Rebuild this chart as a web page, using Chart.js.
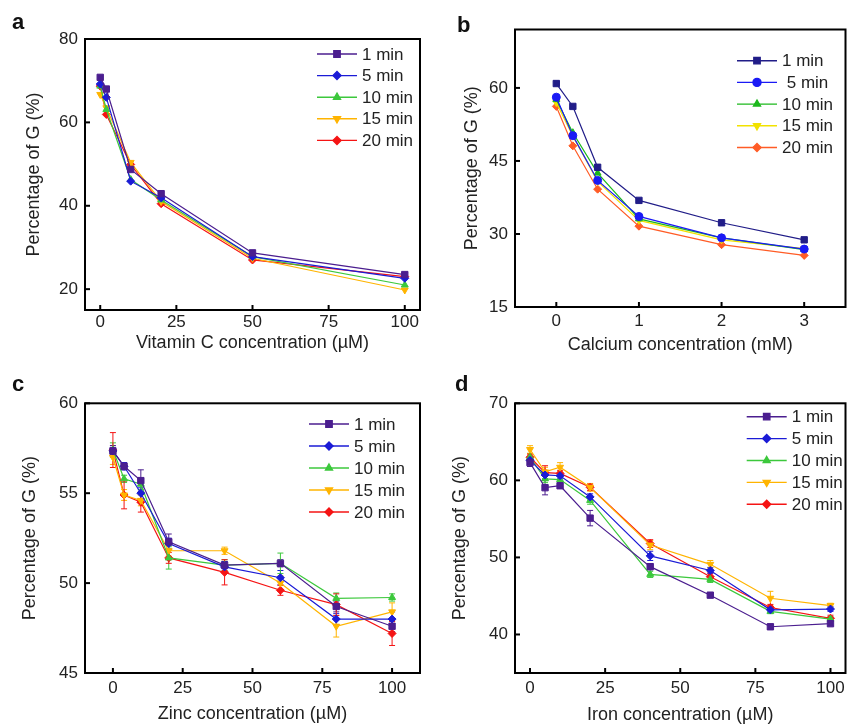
<!DOCTYPE html>
<html>
<head>
<meta charset="utf-8">
<script src="https://cdn.jsdelivr.net/npm/chart.js"></script>
<style>
body { margin: 0; background: #fff; }
#wrap { position: relative; width: 851px; height: 727px; overflow: hidden; }
canvas { position: absolute; }
.lbl { position: absolute; font: bold 22px "Liberation Sans", Arial, sans-serif; color: #111; line-height: 22px; }
</style>
</head>
<body>
<div id="wrap">
  <canvas id="chartA" width="430" height="363" style="left:0;top:0"></canvas>
  <canvas id="chartB" width="421" height="363" style="left:430px;top:0"></canvas>
  <canvas id="chartC" width="430" height="364" style="left:0;top:363px"></canvas>
  <canvas id="chartD" width="421" height="364" style="left:430px;top:363px"></canvas>
  <div class="lbl" style="left:12px;top:11px">a</div>
  <div class="lbl" style="left:457px;top:14px">b</div>
  <div class="lbl" style="left:12px;top:373px">c</div>
  <div class="lbl" style="left:455px;top:373px">d</div>
</div>
<script>
// --- data ---
const timeLabels = ['1 min', '5 min', '10 min', '15 min', '20 min'];
const timeLabelsB = ['1 min', ' 5 min', '10 min', '15 min', '20 min'];

// a: vitamin C
const aX = [0, 2, 10, 20, 50, 100];
const a1 = [70.8, 68.0, 48.7, 42.9, 28.7, 23.5];
const a5 = [69.2, 66.0, 45.9, 41.9, 27.8, 22.6];
const a10 = [68.7, 63.1, 46.3, 41.4, 27.8, 21.0];
const a15 = [66.7, 63.5, 50.4, 41.0, 27.4, 19.8];
const a20 = [68.7, 61.9, 49.9, 40.5, 27.0, 23.0];
const aXTicks = [0, 25, 50, 75, 100];
const aYTicks = [20, 40, 60, 80];

// b: calcium
const bX = [0, 0.2, 0.5, 1, 2, 3];
const b1 = [60.9, 56.2, 43.7, 36.9, 32.3, 28.8];
const b5 = [58.1, 50.2, 41.0, 33.6, 29.2, 26.9];
const b10 = [57.6, 50.8, 42.5, 33.1, 29.2, 26.8];
const b15 = [57.0, 50.1, 40.8, 32.8, 28.8, 27.0];
const b20 = [56.2, 48.1, 39.2, 31.6, 27.8, 25.6];
const bXTicks = [0, 1, 2, 3];
const bYTicks = [15, 30, 45, 60];

// c: zinc
const cX = [0, 4, 10, 20, 40, 60, 80, 100];
const c1 = [57.35, 56.5, 55.7, 52.3, 51.0, 51.1, 48.7, 47.6];
const c5 = [57.35, 56.5, 55.0, 52.2, 50.9, 50.3, 48.0, 48.0];
const c10 = [57.4, 55.8, 55.5, 51.4, 51.0, 51.1, 49.15, 49.2];
const c15 = [57.0, 54.9, 54.6, 51.8, 51.8, 50.0, 47.6, 48.4];
const c20 = [57.4, 54.9, 54.5, 51.4, 50.6, 49.6, 48.8, 47.2];
const cErr1 = [0.3, 0.2, 0.6, 0.43, 0.2, 0.2, 0.3, 0.3];
const cErr5 = [0.2, 0.2, 0.3, 0.3, 0.3, 0.4, 0.3, 0.4];
const cErr10 = [0.4, 0.2, 0.3, 0.62, 0.3, 0.57, 0.3, 0.2];
const cErr15 = [0.4, 0.3, 0.3, 0.3, 0.2, 0.4, 0.6, 0.5];
const cErr20 = [0.97, 0.77, 0.55, 0.3, 0.7, 0.28, 0.6, 0.67];
const cXTicks = [0, 25, 50, 75, 100];
const cYTicks = [45, 50, 55, 60];

// d: iron
const dX = [0, 5, 10, 20, 40, 60, 80, 100];
const d1 = [62.3, 59.05, 59.3, 55.1, 48.8, 45.1, 41.0, 41.4];
const d5 = [62.6, 60.7, 60.6, 57.85, 50.2, 48.3, 43.2, 43.3];
const d10 = [63.0, 60.2, 60.1, 57.4, 47.8, 47.15, 43.0, 42.0];
const d15 = [64.0, 61.1, 61.7, 59.1, 51.6, 49.1, 44.7, 43.75];
const d20 = [63.0, 61.0, 60.9, 59.1, 51.8, 47.5, 43.5, 42.1];
const dErr1 = [0.5, 0.93, 0.3, 1.0, 0.4, 0.3, 0.3, 0.3];
const dErr5 = [0.4, 0.5, 0.4, 0.4, 0.6, 0.4, 0.3, 0.3];
const dErr10 = [0.5, 0.5, 0.4, 0.5, 0.4, 0.4, 0.3, 0.3];
const dErr15 = [0.5, 0.6, 0.6, 0.5, 0.6, 0.5, 0.9, 0.3];
const dErr20 = [0.4, 0.9, 0.4, 0.4, 0.5, 0.5, 0.4, 0.4];
const dXTicks = [0, 25, 50, 75, 100];
const dYTicks = [40, 50, 60, 70];

const colorsMain = ['#4B1E8F', '#1B1BD6', '#3CC83C', '#FFB400', '#F51414'];
const colorsB = ['#211D88', '#1A1AF5', '#1DB81D', '#F2E200', '#FF5C26'];

const FONT = '"Liberation Sans", Arial, sans-serif';
Chart.defaults.animation = false;
Chart.defaults.font.family = FONT;

// frame + inward tick marks
const framePlugin = {
    id: 'frame',
    afterDraw(chart) {
        const ctx = chart.ctx, ca = chart.chartArea;
        const xs = chart.scales.x, ys = chart.scales.y;
        ctx.save();
        ctx.strokeStyle = '#000';
        ctx.lineWidth = 2;
        xs.ticks.forEach(t => {
            let px = xs.getPixelForValue(t.value);
            ctx.beginPath(); ctx.moveTo(px, ca.bottom); ctx.lineTo(px, ca.bottom - 5); ctx.stroke();
        });
        ys.ticks.forEach(t => {
            let py = ys.getPixelForValue(t.value);
            ctx.beginPath(); ctx.moveTo(ca.left, py); ctx.lineTo(ca.left + 5, py); ctx.stroke();
        });
        ctx.strokeRect(ca.left, ca.top, ca.right - ca.left, ca.bottom - ca.top);
        ctx.restore();
    }
};

// error bars from dataset.errors
const errorPlugin = {
    id: 'errbars',
    beforeDatasetsDraw(chart) {
        const ctx = chart.ctx;
        const xs = chart.scales.x, ys = chart.scales.y;
        ctx.save();
        ctx.lineWidth = 1;
        chart.data.datasets.forEach(ds => {
            if (!ds.errors) return;
            ctx.strokeStyle = ds.borderColor;
            ds.data.forEach((pt, k) => {
                let e = ds.errors[k];
                let px = xs.getPixelForValue(pt.x);
                let top = ys.getPixelForValue(pt.y + e);
                let bot = ys.getPixelForValue(pt.y - e);
                ctx.beginPath();
                ctx.moveTo(px, top); ctx.lineTo(px, bot);
                ctx.moveTo(px - 3, top); ctx.lineTo(px + 3, top);
                ctx.moveTo(px - 3, bot); ctx.lineTo(px + 3, bot);
                ctx.stroke();
            });
        });
        ctx.restore();
    }
};

function makeLegend(pos) {
    return {
        id: 'boxLegend',
        afterDraw(chart) {
            const ctx = chart.ctx;
            ctx.save();
            chart.data.datasets.forEach((ds, i) => {
                let y = pos.y + i * pos.gap;
                ctx.strokeStyle = ds.borderColor;
                ctx.lineWidth = 1.4;
                ctx.beginPath(); ctx.moveTo(pos.x, y); ctx.lineTo(pos.x + 40, y); ctx.stroke();
                ctx.fillStyle = ds.backgroundColor;
                Chart.helpers.drawPoint(ctx, {
                    pointStyle: ds.pointStyle, rotation: ds.pointRotation,
                    radius: ds.pointRadius, borderWidth: 1
                }, pos.x + 20, y);
                ctx.fillStyle = '#222';
                ctx.font = '17px ' + FONT;
                ctx.textBaseline = 'middle';
                ctx.textAlign = 'left';
                ctx.fillText(ds.label, pos.x + 45, y + 1);
            });
            ctx.restore();
        }
    };
}

function makePanel(id, p) {
    let styles = p.styles || ['rect', 'rectRot', 'triangle', 'triangle', 'rectRot'];
    let datasets = p.series.map((s, i) => ({
        label: p.names[i],
        data: p.x.map((xv, k) => ({ x: xv, y: s[k] })),
        errors: p.errors ? p.errors[i] : null,
        borderColor: p.colors[i],
        backgroundColor: p.colors[i],
        borderWidth: 1.2,
        pointStyle: styles[i],
        pointRotation: i === 3 ? 180 : 0,
        pointRadius: styles[i] === 'rect' ? 4.5 : 4,
        pointBorderWidth: 1,
        tension: 0
    }));

    new Chart(document.getElementById(id), {
        type: 'line',
        data: { datasets: datasets },
        options: {
            responsive: false,
            layout: { padding: { top: p.padTop, right: p.padRight, left: 0, bottom: 0 } },
            plugins: { legend: { display: false }, tooltip: { enabled: false } },
            scales: {
                x: {
                    type: 'linear', min: p.xMin, max: p.xMax,
                    afterBuildTicks: sc => { sc.ticks = p.xTicks.map(v => ({ value: v })); },
                    afterFit: sc => { sc.height = p.xAxisH; },
                    grid: { display: false, drawTicks: false },
                    border: { display: false },
                    ticks: { font: { size: 17 }, color: '#222', padding: p.xTickPad, maxRotation: 0, autoSkip: false },
                    title: { display: true, text: p.xTitle, font: { size: 18 }, color: '#222', padding: { top: 0, bottom: p.xTitlePad } }
                },
                y: {
                    type: 'linear', min: p.yMin, max: p.yMax,
                    afterBuildTicks: sc => { sc.ticks = p.yTicks.map(v => ({ value: v })); },
                    afterFit: sc => { sc.width = 85; },
                    grid: { display: false, drawTicks: false },
                    border: { display: false },
                    ticks: { font: { size: 17 }, color: '#222', padding: 7, autoSkip: false },
                    title: { display: true, text: 'Percentage of G (%)', font: { size: 18 }, color: '#222', padding: { top: p.yTitlePad, bottom: 0 } }
                }
            }
        },
        plugins: [errorPlugin, framePlugin, makeLegend(p.legend)]
    });
}

makePanel('chartA', {
    x: aX, series: [a1, a5, a10, a15, a20], names: timeLabels, colors: colorsMain,
    xMin: -5, xMax: 105, yMin: 15, yMax: 80, xTicks: aXTicks, yTicks: aYTicks,
    xTitle: 'Vitamin C concentration (\u00b5M)',
    padTop: 39, padRight: 10, xAxisH: 53, xTickPad: 2, xTitlePad: 9, yTitlePad: 23,
    legend: { x: 317, y: 54, gap: 21.6 }
});

makePanel('chartB', {
    x: bX, series: [b1, b5, b10, b15, b20], names: timeLabelsB, colors: colorsB,
    styles: ['rect', 'circle', 'triangle', 'triangle', 'rectRot'],
    xMin: -0.5, xMax: 3.5, yMin: 15, yMax: 72, xTicks: bXTicks, yTicks: bYTicks,
    xTitle: 'Calcium concentration (mM)',
    padTop: 29.5, padRight: 3, xAxisH: 56, xTickPad: 4.5, xTitlePad: 7, yTitlePad: 31,
    legend: { x: 307, y: 60.7, gap: 21.7 }
});

makePanel('chartC', {
    x: cX, series: [c1, c5, c10, c15, c20], errors: [cErr1, cErr5, cErr10, cErr15, cErr20],
    names: timeLabels, colors: colorsMain,
    xMin: -10, xMax: 110, yMin: 45, yMax: 60, xTicks: cXTicks, yTicks: cYTicks,
    xTitle: 'Zinc concentration (\u00b5M)',
    padTop: 40.3, padRight: 10, xAxisH: 54, xTickPad: 5, xTitlePad: 2, yTitlePad: 19,
    legend: { x: 309, y: 61, gap: 22 }
});

makePanel('chartD', {
    x: dX, series: [d1, d5, d10, d15, d20], errors: [dErr1, dErr5, dErr10, dErr15, dErr20],
    names: timeLabels, colors: colorsMain,
    xMin: -5, xMax: 105, yMin: 35, yMax: 70, xTicks: dXTicks, yTicks: dYTicks,
    xTitle: 'Iron concentration (\u00b5M)',
    padTop: 40.3, padRight: 3, xAxisH: 54, xTickPad: 5, xTitlePad: 1, yTitlePad: 19,
    legend: { x: 316.7, y: 53.7, gap: 21.9 }
});
</script>
</body>
</html>
